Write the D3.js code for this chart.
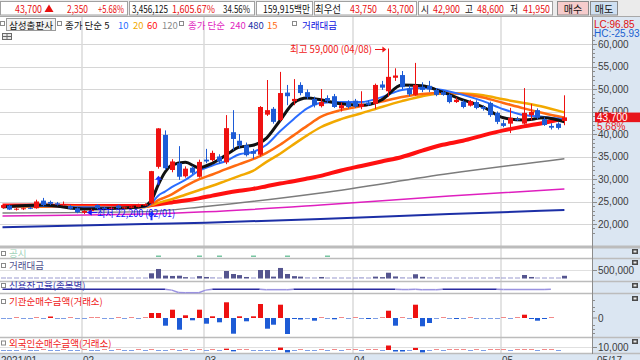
<!DOCTYPE html>
<meta charset="utf-8">
<style>
body { margin: 0; background: #fff; }
svg { display: block; font-family: "Noto Sans CJK KR", "Noto Sans", sans-serif; }
.num { font-family: "Liberation Sans", Arial, sans-serif; }
</style>
<body>
<script src="https://cdn.jsdelivr.net/npm/d3@7"></script>
<script>
// daily candles, 2021/01/14 .. 2021/05/17
var open = [
  23600, 24100, 23200, 23300, 23600, 23500, 25200, 24900, 24600, 24200, 24000, 23500,
  22500, 23000, 24200, 23600, 23400, 24100, 23500, 23600, 23800, 24100,
  24600, 32700, 39800, 32000, 33500, 30600, 32500, 30500, 34300, 34200,
  35000, 33700, 40400, 38500, 37500, 36200, 35400, 44300, 45600, 43100,
  49200, 47300, 50900, 49300, 47800, 46200, 48000, 48400, 45700, 47100,
  47400, 46000, 47000, 46700, 51000, 49500, 52500, 53100, 50100, 48700,
  50500, 50700, 49800, 49300, 48700, 47100, 47200, 46300, 47100, 46000,
  46900, 44700, 42400, 42300, 43300, 42300, 44200, 45300, 43300, 41800,
  42300, 42900];
var high = [
  24400, 24300, 23600, 23700, 23800, 25400, 25800, 25200, 24900, 25000, 24200, 23700,
  23100, 23400, 24400, 23800, 23800, 24300, 23800, 24100, 24500, 24600,
  31800, 41300, 40800, 34400, 37300, 32800, 32900, 34300, 36700, 36300,
  35500, 44200, 45300, 40000, 38100, 36700, 46200, 52000, 46000, 53800,
  50900, 52200, 51500, 49900, 48300, 50000, 48600, 48900, 47000, 47500,
  47800, 49500, 47500, 51200, 51800, 59000, 54600, 54000, 50800, 55800,
  51500, 51800, 50200, 49600, 49000, 48100, 47500, 47600, 47500, 46400,
  47200, 45000, 43100, 45800, 43800, 50200, 46700, 45700, 43700, 42400,
  42600, 48600];
var low = [
  23400, 23100, 23000, 23100, 23300, 23400, 24000, 24200, 24100, 24000, 23200, 22400,
  22200, 22800, 23300, 23300, 23300, 23400, 23400, 23500, 23700, 24000,
  24400, 32300, 32000, 31500, 29800, 30300, 31100, 30300, 33500, 33900,
  33400, 33300, 36400, 36800, 35000, 34500, 35000, 44000, 42300, 42800,
  46400, 46400, 48600, 47800, 45900, 45900, 46900, 45800, 45000, 45700,
  45800, 45500, 46300, 45600, 49800, 48300, 51800, 50000, 48400, 48500,
  49300, 49300, 48400, 48500, 46800, 46900, 45700, 46100, 45500, 45200,
  43800, 42200, 41500, 40200, 42900, 42100, 43000, 43300, 41800, 41000,
  41000, 41950];
var close = [
  24200, 23200, 23400, 23500, 23400, 25000, 24200, 24500, 24300, 24400, 23400, 22600,
  22900, 23100, 23500, 23400, 23600, 23500, 23700, 23900, 24300, 24400,
  31750, 41250, 32400, 33900, 30500, 32300, 31400, 33800, 33900, 35800,
  33900, 41300, 38900, 37400, 35300, 35600, 46000, 45300, 42700, 49100,
  48400, 47800, 49100, 48200, 46400, 47100, 47300, 46000, 46400, 46000,
  46100, 46700, 46500, 50900, 50300, 52700, 53000, 50400, 48800, 50900,
  49800, 49900, 48700, 48700, 47100, 47600, 46000, 47300, 45800, 45600,
  44200, 42700, 41800, 43600, 43100, 44700, 44900, 43600, 42000, 41400,
  41350, 43700];

// 거래대금 (백만)
var tradeValue = [
  9000, 12000, 6000, 5000, 4000, 15000, 14000, 8000, 6000, 5000, 9000, 12000,
  14000, 7000, 10000, 6000, 5000, 8000, 5000, 6000, 9000, 7000,
  306000, 560000, 170000, 150000, 165000, 80000, 60000, 140000, 90000, 70000,
  55000, 440000, 265000, 200000, 90000, 60000, 500000, 500000, 110000, 620000,
  265000, 140000, 110000, 70000, 60000, 90000, 55000, 60000, 45000, 40000,
  35000, 70000, 40000, 110000, 80000, 340000, 120000, 70000, 50000, 250000,
  100000, 70000, 50000, 40000, 50000, 45000, 40000, 45000, 40000, 35000,
  60000, 70000, 55000, 60000, 40000, 206000, 90000, 60000, 45000, 40000,
  50000, 159915];

// 기관순매수금액
var instNet = [
  -20, -30, 20, -20, -30, 30, -20, 150, -20, -30, 20, -20,
  -30, 20, 30, -20, -30, 20, -20, 30, -30, 20,
  500, 500, -770, 830, -1170, 270, -230, 830, -570, 170,
  -430, 1570, -1570, 170, -330, 170, 1400, -1070, -670, 1330,
  -1600, -100, -150, -80, -270, 60, -50, -130, 40, -60,
  50, -90, -100, -60, 30, 730, -770, 50, -40, 1330,
  -830, -500, -60, 40, -80, -100, -60, 40, -50, -60,
  -70, -50, 50, -60, 40, 330, -100, -270, -100, 50,
  null, null];

// 외국인순매수금액
var foreignNet = [
  -300, -500, -400, 300, -300, -400, 500, -300, -400, 300, -500, -300,
  400, -300, -400, 300, -300, 400, -300, -400, 300, -300,
  1200, -800, -1500, 1000, -1200, 500, -600, 800, -500, 400,
  -1500, 4500, -4500, 600, 1500, -400, -1200, -1500, -600, 8000,
  -8000, -500, 600, -400, -300, 400, -300, 500, -400, 300,
  1500, -500, 400, 1500, -400, 15000, -5000, -5000, -300, 7000,
  -8000, -600, 400, -300, 500, 300, 1000, -300, 400, -400,
  600, 800, 500, -400, 300, 600, 900, -500, 700, 400,
  -300, null];

// moving averages at these candle positions
var maIdx = [0, 6, 12, 18, 21, 22, 23, 24, 25, 27, 29, 31, 33, 35, 37, 39, 41, 43, 45, 47, 50, 53, 56, 59, 62, 65, 68, 71, 74, 77, 80, 83];
var ma5  = [23780, 24220, 23330, 23560, 24000, 25300, 28700, 31500, 33100, 33700, 32500, 33500, 35300, 37100, 37500, 39100, 43000, 46900, 48000, 47600, 46700, 46400, 47600, 50900, 50700, 49300, 47600, 46000, 43600, 43100, 43600, 42700];
var ma10 = [23900, 24000, 23700, 23600, 23800, 24600, 26300, 27200, 28200, 29800, 31800, 33000, 34000, 35500, 36000, 37600, 40600, 43300, 45700, 46900, 47100, 47100, 48200, 49800, 50200, 49800, 48700, 47300, 45500, 44200, 43800, 43300];
var ma15 = [23900, 23900, 23800, 23700, 23800, 24300, 25300, 25900, 26600, 28400, 29900, 31000, 32200, 33300, 34400, 35800, 37600, 39700, 41800, 43800, 45300, 46200, 47200, 48200, 48900, 49100, 48900, 48100, 46900, 45700, 44600, 43600];
var ma20 = [23900, 23900, 23800, 23700, 23800, 24200, 24700, 25100, 25500, 26500, 27500, 28500, 29600, 30700, 31800, 33800, 35600, 37700, 39700, 41500, 43300, 44600, 46000, 47300, 48400, 49000, 49000, 48600, 47700, 46900, 46000, 44800];
var ma60 = [24100, 24100, 24000, 24000, 24000, 24200, 24400, 24600, 24800, 25200, 25700, 26300, 26900, 27400, 27800, 28400, 29000, 29500, 30100, 30700, 31900, 32900, 33900, 34900, 36300, 37600, 38500, 39700, 40800, 41700, 42500, 43500];
var longIdx = [0, 21, 30, 47, 66, 83];
var ma120 = [22450, 22750, 23900, 26900, 31200, 34500];
var ma240 = [21800, 22200, 22700, 24200, 26200, 27800];
var ma480 = [19300, 20000, 20300, 21100, 22200, 23100];

// 신용잔고율
var creditIdx  = [0, 24, 25, 26, 27, 29, 30, 31, 38, 39, 42, 43, 58, 59, 60, 61, 62, 64, 65, 73, 74, 80, 81];
var creditRate = [1.22, 1.22, 1.15, 0.95, 0.93, 0.93, 1.15, 1.22, 1.22, 1.19, 1.19, 1.22, 1.22, 1.2, 1.2, 1.22, 1.19, 1.19, 1.22, 1.22, 1.2, 1.2, 1.22];

var disclosureDays = [23, 29, 32, 37, 42, 48];
var signalDays = [22, 23];
var monthStart = [0, 12, 30, 52, 74];
var monthLabels = ["2021/01", "02", "03", "04", "05"];
var priceTicks = [20000, 25000, 30000, 35000, 40000, 45000, 50000, 55000, 60000];

var N = close.length;
var UP = "#ee1111", DOWN = "#1d5bd6";
var fmt = d3.format(",");

var svg = d3.select("body").append("svg").attr("width", 640).attr("height", 360);

var x = d3.scaleLinear().domain([0, N - 1]).range([2.5, 564.4]);
var y = d3.scaleLinear().domain([20000, 60000]).range([224, 44]);
var yv = d3.scaleLinear().domain([0, 500000]).range([278.5, 270]);
var yi = d3.scaleLinear().domain([0, 1000]).range([318, 308]);
var yf = d3.scaleLinear().domain([0, 10000]).range([350, 347]);
var yc = d3.scaleLinear().domain([0.93, 1.22]).range([292.7, 289.3]);

// backgrounds
svg.append("rect").attr("width", 640).attr("height", 360).attr("fill", "#fff");
svg.append("rect").attr("x", 592).attr("y", 17).attr("width", 48).attr("height", 343).attr("fill", "#dbe6f2");
svg.append("rect").attr("x", 0).attr("y", 354).attr("width", 640).attr("height", 6).attr("fill", "#dbe6f2");

// grid
svg.append("g").selectAll("line").data(priceTicks).enter().append("line")
    .attr("x1", 0).attr("x2", 592).attr("y1", d => Math.round(y(d)) + 0.5).attr("y2", d => Math.round(y(d)) + 0.5)
    .attr("stroke", "#d6d6d6");
svg.append("line").attr("x1", 0).attr("x2", 592).attr("y1", 270.5).attr("y2", 270.5).attr("stroke", "#e0e0e0");
svg.append("line").attr("x1", 0).attr("x2", 592).attr("y1", 347.5).attr("y2", 347.5).attr("stroke", "#e0e0e0");
svg.append("g").selectAll("line").data(monthStart.slice(1)).enter().append("line")
    .attr("x1", d => Math.round(x(d)) - 2).attr("x2", d => Math.round(x(d)) - 2)
    .attr("y1", 17).attr("y2", 354).attr("stroke", "#dadada").attr("stroke-width", 1.5);

// panel separators
[247, 258.5, 281.5, 293.5, 337.5, 353.5].forEach(function(v) {
  svg.append("line").attr("x1", 0).attr("x2", 640).attr("y1", v).attr("y2", v)
      .attr("stroke", "#bcbcbc").attr("stroke-width", v === 247 ? 3 : 1.5);
});

// main plot
svg.append("clipPath").attr("id", "clipMain").append("rect")
    .attr("x", 0).attr("y", 17).attr("width", 592).attr("height", 229);
var plot = svg.append("g").attr("clip-path", "url(#clipMain)");

function maLine(idx) {
  return d3.line().x((d, k) => x(idx[k])).y(d => y(d)).curve(d3.curveMonotoneX);
}
var maDefs = [
  [longIdx, ma480, "#1c2fa6", 2],
  [longIdx, ma240, "#df1fbf", 1.5],
  [longIdx, ma120, "#7c7c7c", 1.5],
  [maIdx, ma60, "#ff1010", 4],
  [maIdx, ma20, "#f2a900", 2.5],
  [maIdx, ma15, "#ff6a10", 2.5],
  [maIdx, ma10, "#2a6cff", 2],
  [maIdx, ma5, "#111111", 3]
];
maDefs.forEach(function(m) {
  plot.append("path").datum(m[1]).attr("d", maLine(m[0]))
      .attr("fill", "none").attr("stroke", m[2]).attr("stroke-width", m[3]).attr("stroke-linejoin", "round");
});

var cg = plot.selectAll(".candle").data(d3.range(N)).enter().append("g").attr("class", "candle");
cg.append("line")
    .attr("x1", i => Math.round(x(i)) + 0.5).attr("x2", i => Math.round(x(i)) + 0.5)
    .attr("y1", i => y(high[i])).attr("y2", i => y(low[i]))
    .attr("stroke", i => close[i] >= open[i] ? UP : DOWN);
cg.append("rect")
    .attr("x", i => Math.round(x(i)) - 2).attr("width", 5)
    .attr("y", i => y(Math.max(open[i], close[i])))
    .attr("height", i => Math.max(1, Math.abs(y(open[i]) - y(close[i]))))
    .attr("fill", i => close[i] >= open[i] ? UP : DOWN);

// buy signal arrows
plot.selectAll(".sig").data(signalDays).enter().append("path")
    .attr("d", function(i) {
      var cx = Math.round(x(i)) + 0.5, t = y(low[i]) + 7;
      return "M" + cx + "," + t + "L" + (cx + 3.5) + "," + (t + 4) + "L" + (cx + 1) + "," + (t + 4) +
             "L" + (cx + 1) + "," + (t + 9) + "L" + (cx - 1) + "," + (t + 9) + "L" + (cx - 1) + "," + (t + 4) +
             "L" + (cx - 3.5) + "," + (t + 4) + "Z";
    })
    .attr("fill", "#1b35ff");

// high / low annotations
var hiIdx = d3.maxIndex(high), loIdx = d3.minIndex(low);
plot.append("text").attr("x", 290).attr("y", 53).attr("font-size", 10).attr("fill", "#f01818")
    .attr("textLength", 82).attr("lengthAdjust", "spacingAndGlyphs")
    .text("최고 " + fmt(high[hiIdx]) + " (04/08)");
plot.append("line").attr("x1", 375).attr("x2", x(hiIdx) - 5).attr("y1", 49.5).attr("y2", 49.5).attr("stroke", "#f01818");
plot.append("path").attr("d", "M" + (x(hiIdx) - 2) + ",49.5l-4,-3v6z").attr("fill", "#f01818");
var ly = y(low[loIdx]) - 1.5;
plot.append("path").attr("d", "M" + (x(loIdx) + 3) + "," + ly + "l5,-3v6z").attr("fill", "#1414ff");
plot.append("line").attr("x1", x(loIdx) + 7).attr("x2", 97).attr("y1", ly).attr("y2", ly).attr("stroke", "#1414ff");
plot.append("text").attr("x", 97).attr("y", ly + 4).attr("font-size", 10).attr("fill", "#1414ff")
    .attr("textLength", 78).attr("lengthAdjust", "spacingAndGlyphs")
    .text("최저 " + fmt(low[loIdx]) + " (02/01)");

// 공시
svg.append("g").selectAll("rect").data(disclosureDays).enter().append("rect")
    .attr("x", i => Math.round(x(i)) - 2).attr("y", 255.5).attr("width", 5).attr("height", 1.5)
    .attr("fill", "#78c6a2");

// 거래대금
svg.append("g").selectAll("rect").data(d3.range(N)).enter().append("rect")
    .attr("x", i => Math.round(x(i)) - 2).attr("width", 5)
    .attr("y", i => Math.min(yv(tradeValue[i]), 277.5))
    .attr("height", i => Math.max(1, 278.5 - yv(tradeValue[i])))
    .attr("fill", i => 278.5 - yv(tradeValue[i]) < 1.2 ? "#9c9cd0" : "#55558f");

// 신용잔고율
var creditG = svg.append("g");
for (var k = 1; k < creditIdx.length; k++) {
  var low2 = Math.min(creditRate[k - 1], creditRate[k]) < 1.215;
  creditG.append("line")
      .attr("x1", x(creditIdx[k - 1])).attr("x2", x(creditIdx[k]))
      .attr("y1", yc(creditRate[k - 1])).attr("y2", yc(creditRate[k]))
      .attr("stroke", low2 ? "#9a92e0" : "#2a2aa0").attr("stroke-width", 1.5);
}

// net buying bars
function netBars(vals, sc, zero) {
  svg.append("g").selectAll("rect").data(d3.range(N).filter(i => vals[i] !== null)).enter().append("rect")
      .attr("x", i => Math.round(x(i)) - 2).attr("width", 5)
      .attr("y", function(i) { var h = Math.max(1, Math.abs(sc(vals[i]) - zero)); return vals[i] >= 0 ? zero - h : zero; })
      .attr("height", i => Math.max(1, Math.abs(sc(vals[i]) - zero)))
      .attr("fill", function(i) {
        var small = Math.abs(sc(vals[i]) - zero) < 1;
        if (vals[i] >= 0) return small ? "#f28a8a" : UP;
        return small ? "#7e9fe6" : DOWN;
      });
}
netBars(instNet, yi, 318);
netBars(foreignNet, yf, 350);

// right axis
var ax = svg.append("g").attr("class", "num");
ax.append("line").attr("x1", 592.5).attr("x2", 592.5).attr("y1", 17).attr("y2", 354).attr("stroke", "#8c8c8c");
d3.range(18000, 63000, 1000).forEach(function(v) {
  var yy = Math.round(y(v)) + 0.5;
  if (yy < 19 || yy > 245) return;
  ax.append("line").attr("x1", 592).attr("x2", v % 5000 === 0 ? 597 : 595).attr("y1", yy).attr("y2", yy).attr("stroke", "#8c8c8c");
});
ax.selectAll(".pt").data(priceTicks).enter().append("text")
    .attr("x", 598).attr("y", d => y(d) + 3.5).attr("font-size", 10).attr("fill", "#3c3c3c")
    .text(d => fmt(d));
[[270.5, "500,000"], [318, "0"], [347.5, "10,000"]].forEach(function(t) {
  ax.append("line").attr("x1", 592).attr("x2", 597).attr("y1", t[0]).attr("y2", t[0]).attr("stroke", "#8c8c8c");
  ax.append("text").attr("x", 598).attr("y", t[0] + 3.5).attr("font-size", 10).attr("fill", "#3c3c3c").text(t[1]);
});
[300, 307, 311, 325, 329, 333].forEach(function(v) {
  ax.append("line").attr("x1", 592).attr("x2", 595).attr("y1", v + 0.5).attr("y2", v + 0.5).attr("stroke", "#8c8c8c");
});
var last = close[N - 1], prev = close[N - 2];
ax.append("rect").attr("x", 595).attr("y", y(last) - 4.8).attr("width", 45).attr("height", 9.6).attr("fill", "#e8141b");
ax.append("text").attr("x", 597).attr("y", y(last) + 3.6).attr("font-size", 10).attr("fill", "#fff").text(fmt(last));
ax.append("text").attr("x", 597).attr("y", y(last) + 12.5).attr("font-size", 10).attr("fill", "#e82020")
    .text(d3.format(".2f")((last - prev) / prev * 100) + "%");
ax.append("text").attr("x", 594).attr("y", 27.5).attr("font-size", 10).attr("fill", "#e01010").text("LC:96.85");
ax.append("text").attr("x", 594).attr("y", 37).attr("font-size", 10).attr("fill", "#1a5fd0").text("HC:-25.93");

// panel icons on the right
[249, 260, 283, 296, 339].forEach(function(v) {
  svg.append("rect").attr("x", 632).attr("y", v).attr("width", 6).attr("height", 5).attr("fill", "#4a4a4a");
  svg.append("rect").attr("x", 633.5).attr("y", v + 1.5).attr("width", 3).attr("height", 2).attr("fill", "#e8e8e8");
});

// x axis
var xa = svg.append("g").attr("class", "num");
monthStart.forEach(function(m, k) {
  var xx = k === 0 ? 1 : Math.round(x(m)) - 1;
  xa.append("text").attr("x", xx).attr("y", 363.5).attr("font-size", 10).attr("fill", "#3c3c3c").text(monthLabels[k]);
});
xa.append("text").attr("x", 597).attr("y", 363.5).attr("font-size", 10).attr("fill", "#3c3c3c").text("05/17");

// panel titles
function smallBox(g, bx, by) {
  g.append("rect").attr("x", bx + 0.5).attr("y", by + 0.5).attr("width", 4).attr("height", 4)
      .attr("fill", "#fff").attr("stroke", "#8a8a8a");
}
[["공시", 257, "#9fd2b8"], ["거래대금", 269, "#50508c"], ["신용잔고율(종목별)", 289, "#3232a8"],
 ["기관순매수금액(거래소)", 305, "#f01c1c"], ["외국인순매수금액(거래소)", 346.5, "#f01c1c"]].forEach(function(p) {
  smallBox(svg, 1, p[1] - 6);
  svg.append("text").attr("x", 9).attr("y", p[1]).attr("font-size", 9.5).attr("fill", p[2]).text(p[0]);
});

// header bar
var head = svg.append("g");
head.append("rect").attr("width", 640).attr("height", 17).attr("fill", "#ebebeb");
head.append("line").attr("x1", 0).attr("x2", 640).attr("y1", 16.5).attr("y2", 16.5).attr("stroke", "#a8a8a8");
[[0, 128], [129, 255], [256, 313], [314, 417], [418, 553]].forEach(function(b) {
  head.append("rect").attr("x", b[0] + 0.5).attr("y", 1.5).attr("width", b[1] - b[0] - 1).attr("height", 13.5)
      .attr("fill", "#fff").attr("stroke", "#a0a0a0");
});
var hdr = [
  ["43,700", 15, 27, "#e81010"], ["2,350", 67, 21, "#e81010"], ["+5.68%", 98, 26, "#e81010"],
  ["3,456,125", 132, 36, "#111"], ["1,605.67%", 172, 43, "#e81010"], ["34.56%", 223, 27, "#111"],
  ["159,915백만", 263, 47, "#111"], ["최우선", 315, 26, "#111"], ["43,750", 350, 27, "#e81010"],
  ["43,700", 387, 27, "#e81010"], ["시", 421, 8, "#111"], ["42,900", 433, 27, "#e81010"],
  ["고", 465, 8, "#111"], ["48,600", 477, 27, "#e81010"], ["저", 510, 8, "#111"], ["41,950", 523, 27, "#e81010"]
];
hdr.forEach(function(h) {
  head.append("text").attr("x", h[1]).attr("y", 12.5).attr("font-size", 10).attr("fill", h[3])
      .attr("textLength", h[2]).attr("lengthAdjust", "spacingAndGlyphs").text(h[0]);
});
head.append("path").attr("d", "M49,4.5L53.5,12L44.5,12Z").attr("fill", "#e81010");
head.append("rect").attr("x", 557.5).attr("y", 1.5).attr("width", 31).attr("height", 13.5).attr("fill", "#f6cccc").attr("stroke", "#8a8a8a");
head.append("rect").attr("x", 590.5).attr("y", 1.5).attr("width", 27).attr("height", 13.5).attr("fill", "#cfe0f2").attr("stroke", "#8a8a8a");
head.append("text").attr("x", 573).attr("y", 12.5).attr("font-size", 10).attr("text-anchor", "middle").attr("fill", "#111").text("매수");
head.append("text").attr("x", 604).attr("y", 12.5).attr("font-size", 10).attr("text-anchor", "middle").attr("fill", "#111").text("매도");

// legend row
var leg = svg.append("g");
smallBox(leg, 0, 21);
leg.append("rect").attr("x", 6.5).attr("y", 18.5).attr("width", 49).attr("height", 12).attr("fill", "#f3f3f3").attr("stroke", "#9a9a9a");
leg.append("text").attr("x", 9).attr("y", 28.5).attr("font-size", 9.5).attr("fill", "#111")
    .attr("textLength", 44).attr("lengthAdjust", "spacingAndGlyphs").text("삼성출판사");
smallBox(leg, 57, 21);
smallBox(leg, 179, 21);
smallBox(leg, 292, 21);
[["종가 단순 5", 65, "#111"], ["10", 118, "#2a6cff"], ["20", 133, "#f2a900"], ["60", 147, "#ff1010"], ["120", 162, "#8c8c8c"],
 ["종가 단순", 188, "#df1fbf"], ["240", 230, "#df1fbf"], ["480", 248, "#1c2fa6"], ["15", 267, "#ff6a10"],
 ["거래대금", 302, "#1010e0"]].forEach(function(l) {
  leg.append("text").attr("x", l[1]).attr("y", 28.5).attr("font-size", 9.5).attr("fill", l[2]).text(l[0]);
});
// small table icon
leg.append("rect").attr("x", 2.5).attr("y", 33.5).attr("width", 9).attr("height", 6).attr("fill", "#e8e8e8").attr("stroke", "#6a6a6a");
leg.append("line").attr("x1", 2.5).attr("x2", 11.5).attr("y1", 36.5).attr("y2", 36.5).attr("stroke", "#6a6a6a");
leg.append("line").attr("x1", 7).attr("x2", 7).attr("y1", 33.5).attr("y2", 39.5).attr("stroke", "#6a6a6a");
</script>
</body>
